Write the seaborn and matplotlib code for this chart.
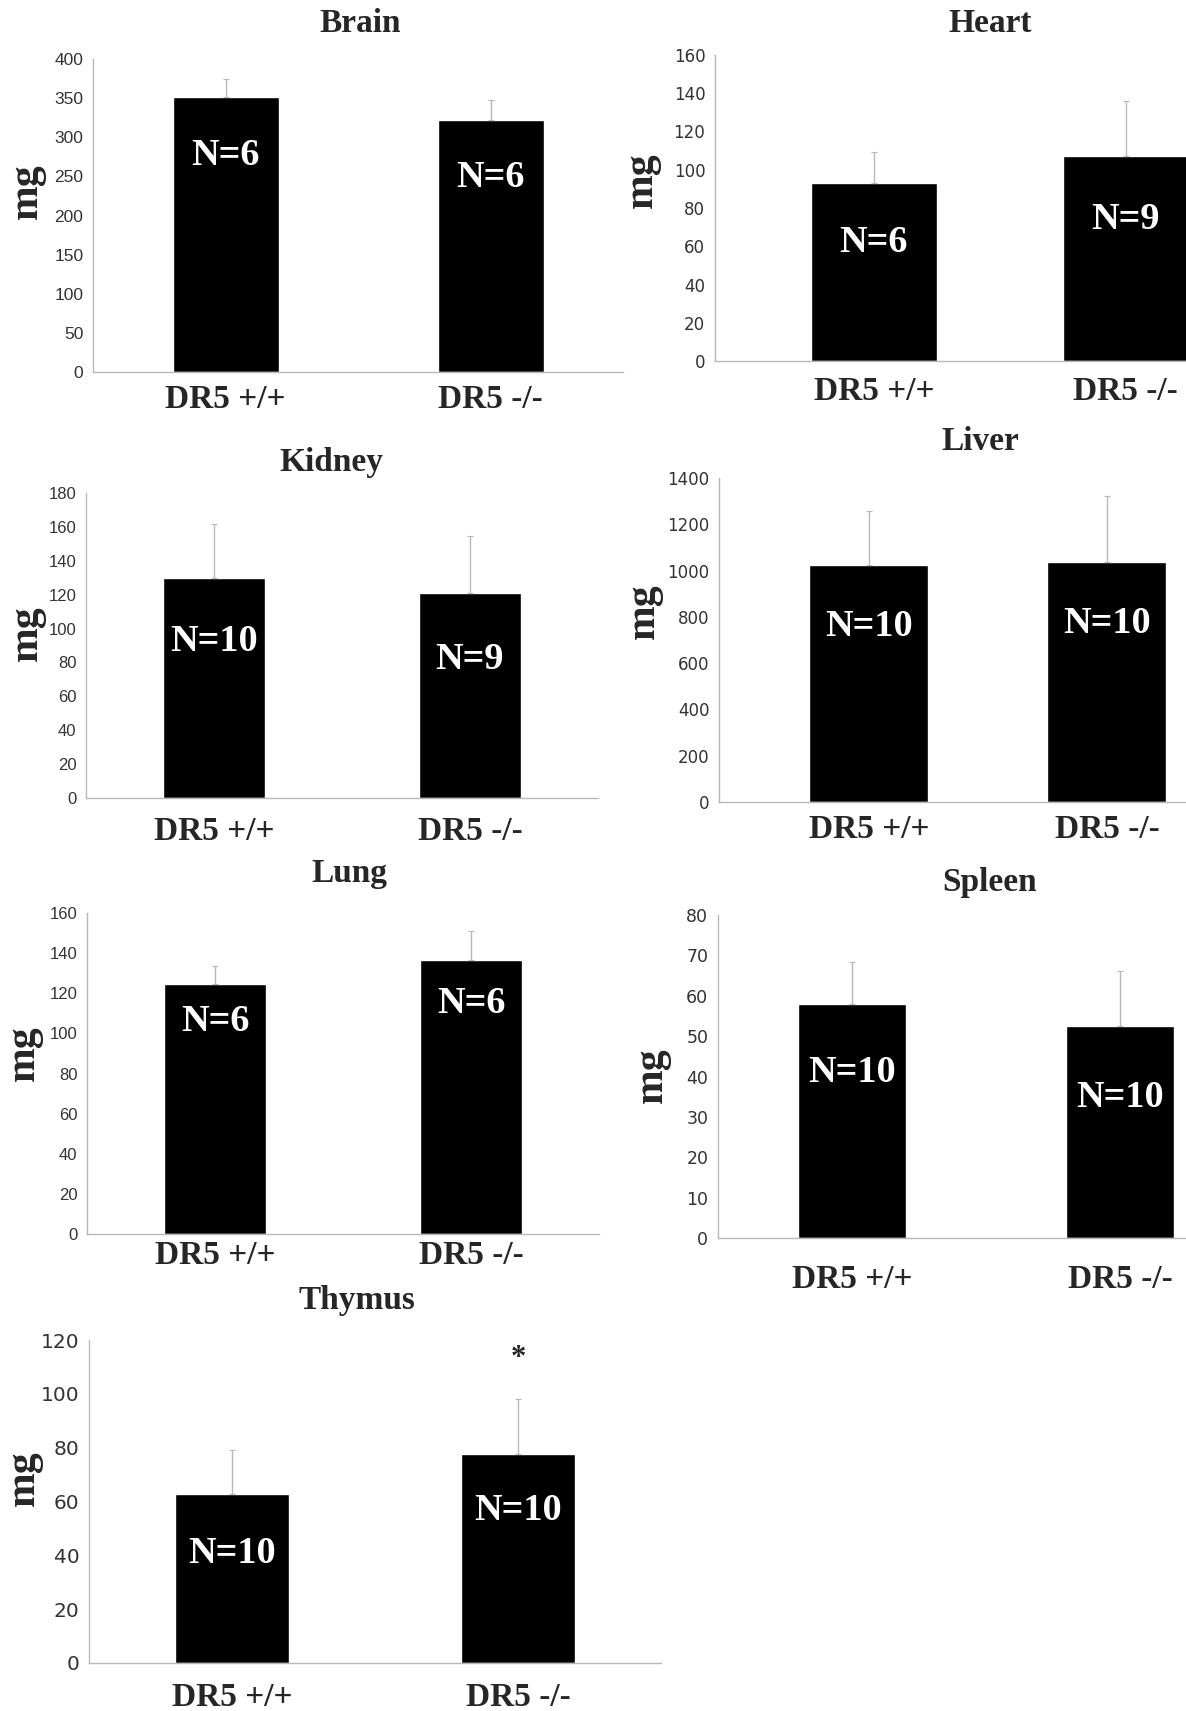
import matplotlib
matplotlib.use("Agg")
import matplotlib.pyplot as plt
import seaborn as sns

# Data (organ weights, mean and upper error, mg)
groups = ["DR5 +/+", "DR5 -/-"]

brain_mean = [351, 321.5]
brain_err = [23, 26.5]
brain_n = ["N=6", "N=6"]

heart_mean = [92.9, 107.3]
heart_err = [16.5, 28.5]
heart_n = ["N=6", "N=9"]

kidney_mean = [130, 121]
kidney_err = [32, 33.4]
kidney_n = ["N=10", "N=9"]

liver_mean = [1022, 1039]
liver_err = [236, 285]
liver_n = ["N=10", "N=10"]

lung_mean = [124.6, 136.6]
lung_err = [9.1, 14.6]
lung_n = ["N=6", "N=6"]

spleen_mean = [58, 52.6]
spleen_err = [10.4, 13.6]
spleen_n = ["N=10", "N=10"]

thymus_mean = [62.7, 77.5]
thymus_err = [16.4, 20.6]
thymus_n = ["N=10", "N=10"]
thymus_sig = ["", "*"]

# Layout in pixels of the 1186x1711 canvas
W, H = 1186, 1711
panels = [
    # title, mean, err, n, ymax, ystep, spine_x, top_y, bottom_y, spacing, xpad, barw, tickfont, ticksize, title_xy, mg_xy, label_off, n_frac
    ("Brain", brain_mean, brain_err, brain_n, 400, 50, 93, 59, 372, 265, 0.5, 0.40, "Liberation Sans", 12.5, (360, 24), (27, 191), 28, (0.79, 0.775)),
    ("Heart", heart_mean, heart_err, heart_n, 160, 20, 715, 55, 361, 252, 0.63, 0.50, "DejaVu Sans", 12, (990, 24), (642, 180), 31, (0.667, 0.69)),
    ("Kidney", kidney_mean, kidney_err, kidney_n, 180, 20, 86, 493, 798, 256, 0.5, 0.40, "Liberation Sans", 12, (331, 463), (27, 633), 33, (0.71, 0.674)),
    ("Liver", liver_mean, liver_err, liver_n, 1400, 200, 719, 478, 802, 238, 0.63, 0.50, "DejaVu Sans", 12, (980, 442), (644, 611), 27, (0.743, 0.742)),
    ("Lung", lung_mean, lung_err, lung_n, 160, 20, 87, 913, 1234, 256, 0.5, 0.40, "Liberation Sans", 12, (349, 874), (24, 1053), 22, (0.85, 0.84)),
    ("Spleen", spleen_mean, spleen_err, spleen_n, 80, 10, 718, 915, 1238, 268, 0.5, 0.40, "DejaVu Sans", 12.5, (990, 882), (652, 1075), 42, (0.707, 0.66)),
    ("Thymus", thymus_mean, thymus_err, thymus_n, 120, 20, 89, 1340, 1663, 286, 0.5, 0.40, "DejaVu Sans", 14.5, (357, 1301), (24, 1478), 34, (0.646, 0.733)),
]

sns.set_style("white")
plt.rcParams["font.family"] = ["Liberation Serif", "DejaVu Serif"]

fig = plt.figure(figsize=(W / 100, H / 100), dpi=100)
grey = "#b8b8b8"

for (title, mean, err, nlab, ymax, ystep, sx, ty, by, sp, xpad, bw, tfont, tsize,
     txy, mgxy, loff, nfrac) in panels:
    width_px = sp * (1 + 2 * xpad)
    ax = fig.add_axes([sx / W, 1 - by / H, width_px / W, (by - ty) / H])
    sns.barplot(x=groups, y=mean, color="black", width=bw, errorbar=None,
                saturation=1, ax=ax)
    ax.errorbar(range(len(groups)), mean, yerr=[[0] * len(err), err],
                fmt="none", ecolor=grey, elinewidth=1.0, capsize=2, capthick=0.8)
    ax.set_xlim(-xpad, 1 + xpad)
    ax.set_ylim(0, ymax)
    ax.set_yticks(range(0, ymax + 1, ystep))
    ax.set_xticks([0, 1])
    ax.set_xticklabels([])
    ax.set_xticks([0.5], minor=True)
    ax.tick_params(axis="x", which="major", length=0)
    ax.tick_params(axis="x", which="minor", length=3, color=grey, direction="out")
    ax.tick_params(axis="y", length=4, color=grey, direction="out", pad=3,
                   labelsize=tsize, labelcolor="#333333")
    for lab in ax.get_yticklabels():
        lab.set_family(tfont)
    for s in ["top", "right"]:
        ax.spines[s].set_visible(False)
    for s in ["left", "bottom"]:
        ax.spines[s].set_color(grey)
        ax.spines[s].set_linewidth(1.0)
    ax.set_xlabel("")
    ax.set_ylabel("")
    ax.grid(False)

    # category labels under the axis
    for i, g in enumerate(groups):
        ax.annotate(g, xy=(i, 0), xycoords=("data", "axes fraction"),
                    xytext=(0, -loff * 0.72), textcoords="offset points",
                    ha="center", va="center", fontsize=24, fontweight="bold")
    # N labels inside bars
    for i, (m, n) in enumerate(zip(mean, nlab)):
        ax.text(i, m * nfrac[i], n, ha="center", va="center", color="white",
                fontsize=27.5, fontweight="bold")

    if title == "Thymus":
        for i, s in enumerate(thymus_sig):
            if s:
                ax.text(i, mean[i] + err[i] + 15, s, ha="center", va="center",
                        fontsize=22, fontweight="bold", clip_on=False)

    fig.text(txy[0] / W, 1 - txy[1] / H, title, ha="center", va="center",
             fontsize=24, fontweight="bold")
    fig.text(mgxy[0] / W, 1 - mgxy[1] / H, "mg", ha="center", va="center",
             rotation=90, fontsize=30, fontweight="bold")

fig.savefig("out.png", dpi=100)
